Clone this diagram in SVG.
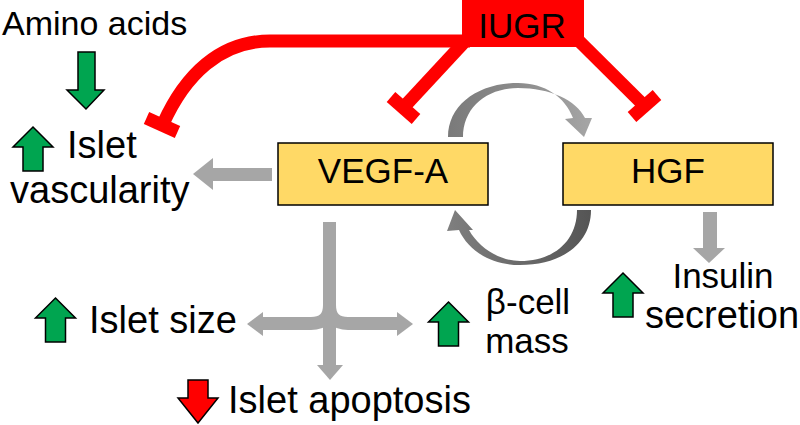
<svg xmlns="http://www.w3.org/2000/svg" width="800" height="425" viewBox="0 0 800 425">
<style>
text{font-family:"Liberation Sans",Arial,sans-serif;fill:#000}
.lbl{font-size:38px}
.lbl2{font-size:35px}
.box{fill:#FFD966;stroke:#000;stroke-width:1.5}
.inh{fill:none;stroke:#FF0000;stroke-width:13}
.bar{fill:none;stroke:#FF0000;stroke-width:13}
.gray{fill:#A6A6A6}
.gstroke{fill:none;stroke:#A6A6A6;stroke-width:13}
.up{fill:#00A550;stroke:#000;stroke-width:1.5}
.down{fill:#FF0000;stroke:#000;stroke-width:1.5}
</style>
<defs>
<path id="uparrow" d="M0,0 L20,20 L10,20 L10,44 L-10,44 L-10,20 L-20,20 Z"/>
<linearGradient id="gTop" gradientUnits="userSpaceOnUse" x1="448" y1="0" x2="592" y2="0">
<stop offset="0" stop-color="#7A7A7A"/>
<stop offset="0.5" stop-color="#8C8C8C"/>
<stop offset="1" stop-color="#A6A6A6"/>
</linearGradient>
<linearGradient id="gBot" gradientUnits="userSpaceOnUse" x1="591" y1="0" x2="447" y2="0">
<stop offset="0" stop-color="#555555"/>
<stop offset="1" stop-color="#7F7F7F"/>
</linearGradient>
</defs>

<g id="connectors">
<!-- IUGR inhibition lines -->
<path class="inh" d="M470 41 H270 C220 41 185 75 163 124"/>
<line class="bar" x1="146.5" y1="118" x2="177.5" y2="132"/>
<line class="inh" x1="468" y1="38" x2="403" y2="108"/>
<line class="bar" x1="391" y1="97" x2="416" y2="119"/>
<line class="inh" x1="576" y1="38" x2="644.5" y2="106"/>
<line class="bar" x1="657" y1="95" x2="632" y2="117"/>
<!-- VEGF-A to Islet vascularity -->
<polygon class="gray" points="272,168 213,168 213,158 193,174 213,190 213,181 272,181"/>
<!-- VEGF-A branching -->
<rect class="gray" x="323" y="222" width="13" height="144"/>
<polygon class="gray" points="317,365 343,365 330,380"/>
<path class="gstroke" d="M262 323.5 H311 Q329.5 323.5 329.5 305"/>
<path class="gstroke" d="M398 323.5 H348 Q329.5 323.5 329.5 305"/>
<polygon class="gray" points="263,312 263,336 247,324"/>
<polygon class="gray" points="397,312 397,336 413,324"/>
<!-- HGF to insulin secretion -->
<polygon class="gray" points="703,212 717,212 717,248 725,248 709,263 693,248 703,248"/>
<!-- curved arrows between VEGF-A and HGF -->
<path fill="url(#gTop)" d="M448 137 C448 105 478 83 518 83 C545 83 565 97 573 118 L565 119 L584 137 L592 118 L585 118 C576 100 550 88 518 88 C486 88 463 108 463 137 Z"/>
<path fill="url(#gBot)" d="M591 210 C591 245 560 265 520 265 C490 265 468 250 459 230 L447 231 L455 210 L473 230 L469 230 C479 248 500 261 520 261 C555 261 577 240 577 210 Z"/>
</g>

<g id="node-iugr">
<rect x="462" y="0" width="122" height="47" fill="#FF0000"/>
<text x="522" y="38" font-size="35" text-anchor="middle">IUGR</text>
</g>

<g id="node-vegfa">
<rect class="box" x="278" y="143" width="210" height="62"/>
<text x="383" y="183" font-size="35" text-anchor="middle">VEGF-A</text>
</g>

<g id="node-hgf">
<rect class="box" x="563" y="143" width="210" height="62"/>
<text x="668" y="183" font-size="35" text-anchor="middle">HGF</text>
</g>

<g id="node-amino">
<text x="2" y="35" font-size="34">Amino acids</text>
<path class="up" d="M78,52 L95,52 L95,90 L104,90 L86,109 L67,90 L78,90 Z"/>
</g>

<g id="node-vascularity">
<use href="#uparrow" class="up" transform="translate(33,127)"/>
<text class="lbl" x="67" y="158">Islet</text>
<text class="lbl" x="10" y="203">vascularity</text>
</g>

<g id="node-isletsize">
<use href="#uparrow" class="up" transform="translate(55.5,298)"/>
<text class="lbl" x="89" y="333">Islet size</text>
</g>

<g id="node-apoptosis">
<path class="down" d="M198,423 L218,398 L208,398 L208,380 L188,380 L188,398 L178,398 Z"/>
<text class="lbl" x="228" y="413">Islet apoptosis</text>
</g>

<g id="node-betacell">
<use href="#uparrow" class="up" transform="translate(448.5,302)"/>
<text class="lbl2" x="528" y="314" text-anchor="middle">β-cell</text>
<text class="lbl2" x="527" y="353" text-anchor="middle">mass</text>
</g>

<g id="node-insulin">
<use href="#uparrow" class="up" transform="translate(623,273)"/>
<text class="lbl2" x="723" y="288" text-anchor="middle">Insulin</text>
<text class="lbl" x="722" y="328" text-anchor="middle">secretion</text>
</g>
</svg>
